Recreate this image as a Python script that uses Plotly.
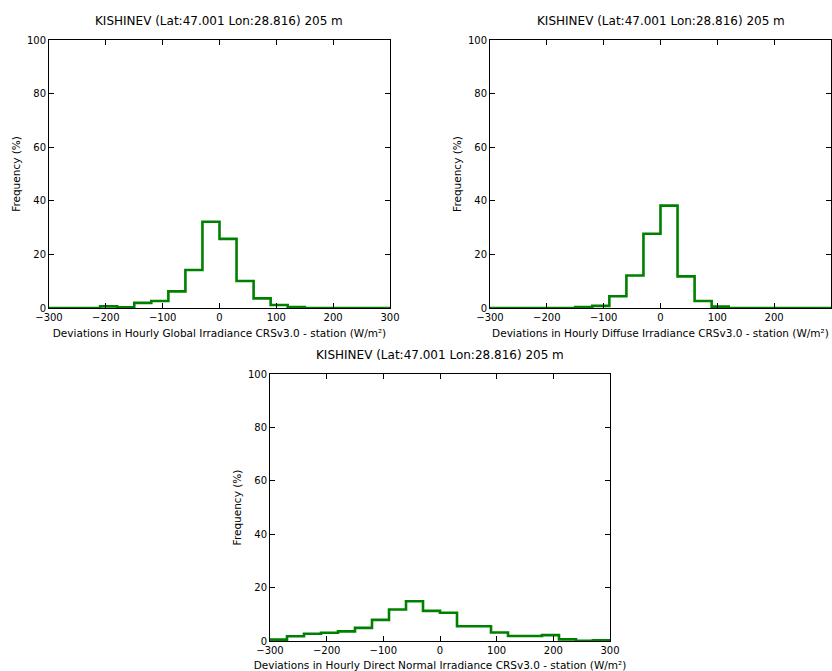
import plotly.graph_objects as go

bin_edges = [-300, -270, -240, -210, -180, -150, -120, -90, -60, -30, 0,
             30, 60, 90, 120, 150, 180, 210, 240, 270, 300]

global_freq = [0, 0, 0, 0.6, 0.3, 1.9, 2.6, 6.2, 14.2, 32.2,
               25.8, 10.1, 3.6, 1.1, 0.4, 0, 0, 0, 0, 0]
diffuse_freq = [0, 0, 0, 0, 0, 0.4, 0.8, 4.4, 12.1, 27.7,
                38.2, 11.8, 2.6, 0.5, 0, 0, 0, 0, 0, 0]
direct_freq = [0.5, 1.8, 2.7, 3.1, 3.6, 4.9, 7.9, 11.8, 14.9, 11.3,
               10.6, 5.5, 5.5, 3.2, 1.9, 1.9, 2.2, 0.6, 0.05, 0.3]

title_text = "KISHINEV (Lat:47.001 Lon:28.816) 205 m"
x_titles = [
    "Deviations in Hourly Global Irradiance CRSv3.0 - station (W/m²)",
    "Deviations in Hourly Diffuse Irradiance CRSv3.0 - station (W/m²)",
    "Deviations in Hourly Direct Normal Irradiance CRSv3.0 - station (W/m²)",
]
y_title = "Frequency (%)"

W, H = 832, 671
OFF = 0  # page body margin removed by post_script
# pixel boxes in the window (left, right, top, bottom)
boxes = [(49, 390, 40, 308), (490, 831, 40, 308), (270, 610, 374, 641)]
series = [global_freq, diffuse_freq, direct_freq]

fig = go.Figure()
FONT = "DejaVu Sans"

for i, (vals, box) in enumerate(zip(series, boxes)):
    n = "" if i == 0 else str(i + 1)
    xs = [bin_edges[0]] + list(bin_edges) + [bin_edges[-1]]
    ys = [0] + list(vals) + [vals[-1], 0]
    fig.add_trace(go.Scatter(
        x=xs, y=ys, mode="lines", line=dict(shape="hv", color="#008000", width=2.6),
        xaxis="x" + n, yaxis="y" + n, showlegend=False, hoverinfo="skip", cliponaxis=False))
    l, r, t, b = [v - OFF for v in box]
    axis_common = dict(showline=True, linecolor="black", linewidth=1, mirror="ticks",
                       ticks="inside", ticklen=5, tickcolor="black", showgrid=False,
                       zeroline=False, automargin=False,
                       tickfont=dict(family=FONT, size=10, color="black"))
    fig.update_layout(**{
        "xaxis" + n: dict(domain=[l / W, r / W], range=[-300, 300], dtick=100,
                          anchor="y" + n, title=dict(text=x_titles[i], standoff=7,
                                                     font=dict(family=FONT, size=10.5, color="black")),
                          **axis_common),
        "yaxis" + n: dict(domain=[1 - b / H, 1 - t / H], range=[0, 100], dtick=20,
                          anchor="x" + n, title=dict(text=y_title, standoff=4,
                                                     font=dict(family=FONT, size=10.5, color="black")),
                          **axis_common),
    })
    fig.add_annotation(text=title_text, x=(l + r) / 2 / W, y=1 - (t - 10) / H,
                       xref="paper", yref="paper", xanchor="center", yanchor="bottom",
                       showarrow=False, font=dict(family=FONT, size=12, color="black"))

fig.update_layout(width=W, height=H, margin=dict(l=0, r=0, t=0, b=0, autoexpand=False),
                  plot_bgcolor="white", paper_bgcolor="white",
                  font=dict(family=FONT, size=11, color="black"))
fig.write_html("out.html", config={"displayModeBar": False},
               post_script="document.body.style.margin='0';"
                           "document.documentElement.style.overflow='hidden';"
                           "document.body.style.overflow='hidden';")
